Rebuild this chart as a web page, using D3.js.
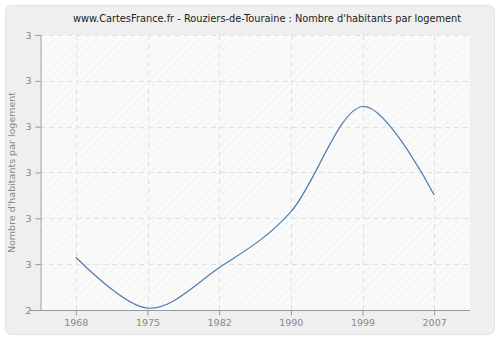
<!DOCTYPE html>
<html>
<head>
<meta charset="utf-8">
<script src="https://cdn.jsdelivr.net/npm/d3@7"></script>
<style>
body { margin: 0; background: #fff; }
svg { display: block; font-family: "DejaVu Sans", Verdana, sans-serif; }
</style>
</head>
<body>
<div id="chart"></div>
<script>
// data
var years = ["1968", "1975", "1982", "1990", "1999", "2007"];
var values = [2.515, 2.404, 2.492, 2.614, 2.844, 2.651];
var yTicks = [2.4, 2.5, 2.6, 2.7, 2.8, 2.9, 3.0];

var width = 500, height = 340;
var margin = {top: 35, right: 30, bottom: 30, left: 40};

var svg = d3.select("#chart").append("svg")
	.attr("width", width).attr("height", height);

// hatch pattern for plot background
var defs = svg.append("defs");
var pat = defs.append("pattern").attr("id", "hatch")
	.attr("width", 6).attr("height", 6)
	.attr("patternUnits", "userSpaceOnUse")
	.attr("patternTransform", "rotate(45)");
pat.append("rect").attr("width", 6).attr("height", 6).attr("fill", "#fafafa");
pat.append("line").attr("x1", 0).attr("y1", 0).attr("x2", 0).attr("y2", 6)
	.attr("stroke", "#ececec").attr("stroke-width", 1);

// outer frame
svg.append("rect").attr("x", 5.5).attr("y", 5.5)
	.attr("width", 489).attr("height", 329)
	.attr("rx", 6).attr("ry", 6)
	.attr("fill", "#efefef").attr("stroke", "#e2e2e2");

var x = d3.scalePoint().domain(years)
	.range([margin.left, width - margin.right]).padding(0.5);
var y = d3.scaleLinear().domain([2.4, 3.0])
	.range([height - margin.bottom, margin.top]);

svg.append("rect").attr("x", margin.left).attr("y", margin.top)
	.attr("width", width - margin.left - margin.right)
	.attr("height", height - margin.top - margin.bottom)
	.attr("fill", "url(#hatch)");

// grid
svg.append("g").selectAll("line").data(yTicks.slice(1)).enter().append("line")
	.attr("x1", margin.left).attr("x2", width - margin.right)
	.attr("y1", function(d) { return Math.round(y(d)) + 0.5; })
	.attr("y2", function(d) { return Math.round(y(d)) + 0.5; })
	.attr("stroke", "#e0e0e0").attr("stroke-dasharray", "5,4");
svg.append("g").selectAll("line").data(years).enter().append("line")
	.attr("x1", function(d) { return Math.round(x(d)) + 0.5; })
	.attr("x2", function(d) { return Math.round(x(d)) + 0.5; })
	.attr("y1", margin.top).attr("y2", height - margin.bottom)
	.attr("stroke", "#e0e0e0").attr("stroke-dasharray", "5,4");

// axes
var xAxis = svg.append("g")
	.attr("transform", "translate(0," + (height - margin.bottom + 0.5) + ")")
	.call(d3.axisBottom(x).tickSize(5).tickPadding(4));
var yAxis = svg.append("g")
	.attr("transform", "translate(" + (margin.left + 0.5) + ",0)")
	.call(d3.axisLeft(y).tickValues(yTicks).tickSize(5).tickPadding(4)
		.tickFormat(d3.format(".0f")));
[xAxis, yAxis].forEach(function(a) {
	a.select(".domain").attr("stroke", "#999");
	a.selectAll(".tick line").attr("stroke", "#999");
	a.selectAll("text").attr("fill", "#888").attr("font-size", "9.5px")
		.attr("font-family", "DejaVu Sans, sans-serif");
});
xAxis.select(".domain").attr("d", "M" + (margin.left - 10) + ",0H" + (width - margin.right));

// line
var line = d3.line()
	.x(function(d, i) { return x(years[i]); })
	.y(function(d) { return y(d); })
	.curve(d3.curveCardinal.tension(0));
svg.append("path").datum(values)
	.attr("d", line).attr("fill", "none")
	.attr("stroke", "#4f7cae").attr("stroke-width", 1.2);

// title
svg.append("text").attr("x", 267).attr("y", 22)
	.attr("text-anchor", "middle").attr("font-size", "9.8px")
	.attr("fill", "#222")
	.text("www.CartesFrance.fr - Rouziers-de-Touraine : Nombre d'habitants par logement");

// y label
svg.append("text")
	.attr("transform", "translate(15," + ((margin.top + height - margin.bottom) / 2) + ") rotate(-90)")
	.attr("text-anchor", "middle").attr("font-size", "9.5px")
	.attr("fill", "#888")
	.text("Nombre d'habitants par logement");
</script>
</body>
</html>
